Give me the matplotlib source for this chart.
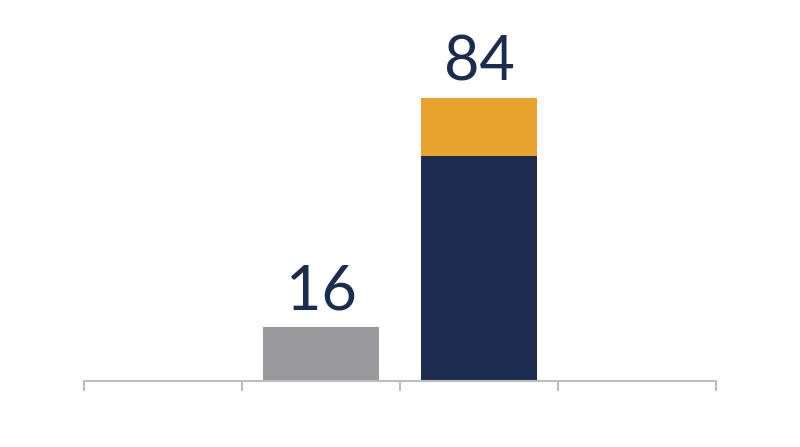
import matplotlib
matplotlib.use("Agg")
import matplotlib.pyplot as plt

# Data
categories = ["", "A", "B", ""]
base_values = [0, 16, 67, 0]
top_values = [0, 0, 17, 0]
base_colors = ["#9a9a9c", "#9a9a9c", "#1b2c4e", "#1b2c4e"]
top_color = "#e8a22e"
text_color = "#1b2c4e"

fig = plt.figure(figsize=(8, 4.47), dpi=100)
ax = fig.add_axes([0.105, 0.1477, 0.79, 0.6324])

x = [i + 0.5 for i in range(len(categories))]
width = 0.728
for xi, b, t, c in zip(x, base_values, top_values, base_colors):
    total = b + t
    if total <= 0:
        continue
    ax.bar(xi, b, width=width, color=c, linewidth=0)
    if t > 0:
        ax.bar(xi, t, bottom=b, width=width, color=top_color, linewidth=0)
    ax.annotate(f"{total}", xy=(xi, total), xytext=(0, 5), textcoords="offset points",
                ha="center", va="bottom", fontsize=44, color=text_color,
                family=["Lato", "DejaVu Sans"], annotation_clip=False)

ax.set_xlim(0, len(categories))
ax.set_ylim(0, 84)
ax.set_xticks(range(len(categories) + 1))
ax.set_xticklabels([])
ax.set_yticks([])
for s in ["top", "right", "left"]:
    ax.spines[s].set_visible(False)
ax.spines["bottom"].set_color("#bdbdbd")
ax.spines["bottom"].set_linewidth(1.5)
ax.tick_params(axis="x", direction="out", length=7, width=1.5, color="#bdbdbd")
ax.patch.set_alpha(0)

fig.savefig("out.png", dpi=100)
